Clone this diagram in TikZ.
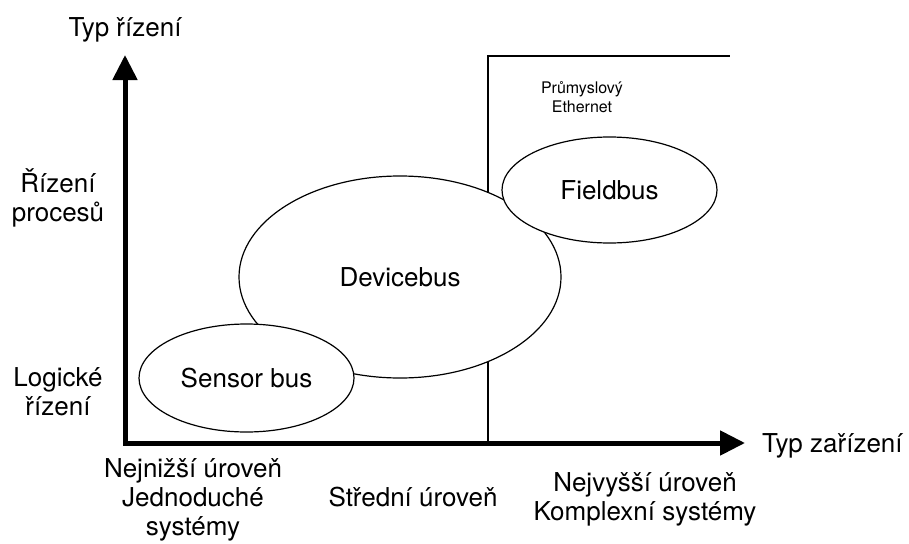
\documentclass[tikz,border=0pt]{standalone}
\usepackage{fontspec}
\setmainfont{TeX Gyre Heros}
\usetikzlibrary{shapes,arrows.meta,positioning}

\begin{document}
\begin{tikzpicture}[
    x=1pt,y=-1pt,
    every node/.style={font=\fontsize{26}{29}\selectfont,inner sep=0pt},
    bus/.style={draw,ellipse,fill=white,line width=1.2pt},
    axis/.style={line width=5pt,{Triangle[length=25pt,width=24pt]}-{Triangle[length=25pt,width=24pt]}},
    frame/.style={line width=1.2pt}
]
\useasboundingbox (0,0) rectangle (909,543);

% Industrial Ethernet region
\coordinate (ethbase) at (488,443);
\coordinate (ethcorner) at (488,56);
\coordinate (ethend) at (730,56);
\draw[frame] (ethbase) -- (ethcorner) -- (ethend);
\node[font=\fontsize{16}{19}\selectfont,align=center,anchor=base] (eth) at (582,112) {Průmyslový\\Ethernet};

% Axes
\coordinate (origin) at (125,443);
\coordinate (ytip) at (125,55);
\coordinate (xtip) at (745,443);
\draw[axis] (ytip) -- (origin) -- (xtip);

% Buses
\node[bus,minimum width=322pt,minimum height=202pt] (device) at (400,277) {Devicebus};
\node[bus,minimum width=215pt,minimum height=108pt] (sensor) at (246.5,378) {Sensor bus};
\node[bus,minimum width=215pt,minimum height=106pt] (field) at (609.5,190) {Fieldbus};

% Axis titles
\node[anchor=base] (ytitle) at (125,37) {Typ řízení};
\node[anchor=base west] (xtitle) at (762,452) {Typ zařízení};

% Control levels
\node[align=center,anchor=base] (process) at (58,221) {Řízení\\procesů};
\node[align=center,anchor=base] (logic) at (58,415) {Logické\\řízení};

% Device levels
\node[align=center,anchor=base] (low) at (193,535) {Nejnižší úroveň\\Jednoduché\\systémy};
\node[anchor=base] (mid) at (413,506) {Střední úroveň};
\node[align=center,anchor=base] (high) at (645,520.5) {Nejvyšší úroveň\\Komplexní systémy};

\end{tikzpicture}
\end{document}
